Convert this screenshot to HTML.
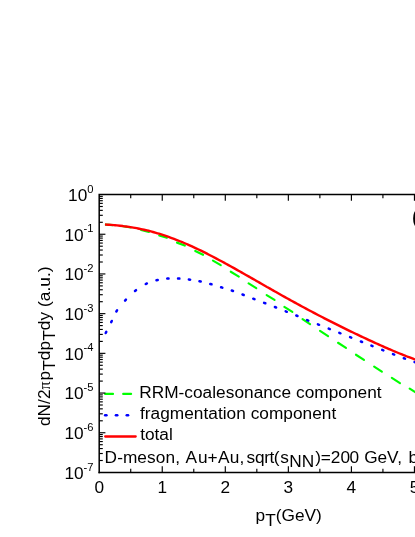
<!DOCTYPE html>
<html><head><meta charset="utf-8"><title>chart</title>
<style>
html,body{margin:0;padding:0;background:#fff;}
body{width:415px;height:537px;overflow:hidden;}
svg{display:block;will-change:transform;}
text{font-family:"Liberation Sans",sans-serif;fill:#000;}
</style></head><body>
<svg width="415" height="537" viewBox="0 0 415 537">
<rect width="415" height="537" fill="#fff"/>

<g stroke="#00ff00" stroke-width="2.15" stroke-linecap="round" fill="none">
<line x1="105.85" y1="224.65" x2="112.85" y2="225.15"/>
<line x1="122.94" y1="226.30" x2="130.66" y2="227.50"/>
<line x1="141.13" y1="230.05" x2="148.87" y2="231.95"/>
<line x1="159.22" y1="235.58" x2="166.88" y2="237.82"/>
<line x1="177.01" y1="242.63" x2="184.79" y2="245.57"/>
<line x1="195.28" y1="250.99" x2="203.02" y2="254.81"/>
<line x1="212.96" y1="260.63" x2="220.74" y2="265.17"/>
<line x1="230.76" y1="271.73" x2="238.84" y2="276.57"/>
<line x1="248.65" y1="283.44" x2="256.25" y2="288.16"/>
<line x1="266.65" y1="295.04" x2="274.55" y2="299.96"/>
<line x1="284.35" y1="306.94" x2="292.35" y2="311.86"/>
<line x1="302.54" y1="319.06" x2="310.06" y2="324.14"/>
<line x1="320.04" y1="330.86" x2="328.06" y2="336.14"/>
<line x1="338.04" y1="342.76" x2="345.96" y2="347.94"/>
<line x1="355.95" y1="354.75" x2="363.95" y2="359.95"/>
<line x1="374.15" y1="366.65" x2="381.85" y2="371.65"/>
<line x1="391.85" y1="377.95" x2="399.95" y2="383.15"/>
<line x1="409.75" y1="388.55" x2="417.45" y2="393.55"/>
</g>
<g stroke="#0000ff" stroke-width="2.5" stroke-linecap="round" fill="none">
<line x1="105.71" y1="333.03" x2="106.29" y2="331.87"/>
<line x1="111.21" y1="322.13" x2="111.79" y2="320.97"/>
<line x1="116.34" y1="311.49" x2="117.06" y2="310.41"/>
<line x1="125.06" y1="300.63" x2="125.94" y2="299.67"/>
<line x1="134.99" y1="290.95" x2="136.01" y2="290.15"/>
<line x1="145.71" y1="284.03" x2="146.89" y2="283.47"/>
<line x1="156.47" y1="280.30" x2="157.73" y2="280.00"/>
<line x1="167.25" y1="278.60" x2="168.55" y2="278.50"/>
<line x1="178.05" y1="278.52" x2="179.35" y2="278.58"/>
<line x1="188.86" y1="279.46" x2="190.14" y2="279.64"/>
<line x1="199.46" y1="281.31" x2="200.74" y2="281.59"/>
<line x1="210.27" y1="283.98" x2="211.53" y2="284.32"/>
<line x1="221.08" y1="287.26" x2="222.32" y2="287.64"/>
<line x1="231.78" y1="290.54" x2="233.02" y2="290.96"/>
<line x1="242.49" y1="294.52" x2="243.71" y2="294.98"/>
<line x1="253.29" y1="298.72" x2="254.51" y2="299.18"/>
<line x1="264.09" y1="302.82" x2="265.31" y2="303.28"/>
<line x1="274.90" y1="307.01" x2="276.10" y2="307.49"/>
<line x1="285.70" y1="311.31" x2="286.90" y2="311.79"/>
<line x1="296.30" y1="315.50" x2="297.50" y2="316.00"/>
<line x1="307.10" y1="320.10" x2="308.30" y2="320.60"/>
<line x1="317.90" y1="324.31" x2="319.10" y2="324.79"/>
<line x1="328.70" y1="328.61" x2="329.90" y2="329.09"/>
<line x1="339.30" y1="332.81" x2="340.50" y2="333.29"/>
<line x1="350.10" y1="337.11" x2="351.30" y2="337.59"/>
<line x1="360.90" y1="341.51" x2="362.10" y2="341.99"/>
<line x1="371.40" y1="345.61" x2="372.60" y2="346.09"/>
<line x1="382.20" y1="349.91" x2="383.40" y2="350.39"/>
<line x1="392.99" y1="354.12" x2="394.21" y2="354.58"/>
<line x1="403.79" y1="358.23" x2="405.01" y2="358.67"/>
<line x1="414.59" y1="362.03" x2="415.81" y2="362.47"/>
</g>
<path d="M105.0,224.5 C105.50,224.53 107.00,224.62 108.0,224.69 C109.00,224.76 110.00,224.82 111.0,224.9 C112.00,224.98 113.00,225.06 114.0,225.15 C115.00,225.24 116.00,225.32 117.0,225.42 C118.00,225.52 119.00,225.62 120.0,225.73 C121.00,225.84 122.00,225.96 123.0,226.08 C124.00,226.20 125.00,226.33 126.0,226.47 C127.00,226.61 128.00,226.75 129.0,226.9 C130.00,227.05 131.00,227.21 132.0,227.37 C133.00,227.53 134.00,227.71 135.0,227.89 C136.00,228.07 137.00,228.25 138.0,228.45 C139.00,228.64 140.00,228.85 141.0,229.06 C142.00,229.27 143.00,229.49 144.0,229.72 C145.00,229.95 146.00,230.18 147.0,230.42 C148.00,230.66 149.00,230.91 150.0,231.17 C151.00,231.43 152.00,231.69 153.0,231.97 C154.00,232.25 155.00,232.53 156.0,232.82 C157.00,233.11 158.00,233.41 159.0,233.72 C160.00,234.03 161.00,234.34 162.0,234.66 C163.00,234.98 164.00,235.31 165.0,235.65 C166.00,235.99 167.00,236.33 168.0,236.68 C169.00,237.03 170.00,237.39 171.0,237.76 C172.00,238.13 173.00,238.50 174.0,238.88 C175.00,239.26 176.00,239.65 177.0,240.04 C178.00,240.43 179.00,240.83 180.0,241.24 C181.00,241.65 182.00,242.07 183.0,242.49 C184.00,242.91 185.00,243.34 186.0,243.77 C187.00,244.20 188.00,244.65 189.0,245.09 C190.00,245.53 191.00,245.98 192.0,246.44 C193.00,246.90 194.00,247.36 195.0,247.83 C196.00,248.30 197.00,248.77 198.0,249.25 C199.00,249.73 200.00,250.21 201.0,250.7 C202.00,251.19 203.00,251.67 204.0,252.17 C205.00,252.67 206.00,253.17 207.0,253.68 C208.00,254.19 209.00,254.70 210.0,255.21 C211.00,255.72 212.00,256.25 213.0,256.77 C214.00,257.29 215.00,257.81 216.0,258.34 C217.00,258.87 218.00,259.40 219.0,259.94 C220.00,260.48 221.00,261.01 222.0,261.55 C223.00,262.09 224.00,262.64 225.0,263.19 C226.00,263.74 227.00,264.28 228.0,264.83 C229.00,265.38 230.00,265.93 231.0,266.49 C232.00,267.05 233.00,267.61 234.0,268.17 C235.00,268.73 236.00,269.29 237.0,269.85 C238.00,270.41 239.00,270.98 240.0,271.54 C241.00,272.11 242.00,272.67 243.0,273.24 C244.00,273.81 245.00,274.38 246.0,274.95 C247.00,275.52 248.00,276.09 249.0,276.66 C250.00,277.23 251.00,277.80 252.0,278.37 C253.00,278.94 254.00,279.51 255.0,280.08 C256.00,280.65 257.00,281.23 258.0,281.8 C259.00,282.37 260.00,282.95 261.0,283.52 C262.00,284.09 263.00,284.66 264.0,285.23 C265.00,285.80 266.00,286.37 267.0,286.94 C268.00,287.51 269.00,288.08 270.0,288.65 C271.00,289.22 272.00,289.78 273.0,290.35 C274.00,290.92 275.00,291.48 276.0,292.05 C277.00,292.62 278.00,293.19 279.0,293.75 C280.00,294.31 281.00,294.87 282.0,295.43 C283.00,295.99 284.00,296.55 285.0,297.11 C286.00,297.67 287.00,298.22 288.0,298.78 C289.00,299.33 290.00,299.89 291.0,300.44 C292.00,300.99 293.00,301.55 294.0,302.1 C295.00,302.65 296.00,303.19 297.0,303.74 C298.00,304.29 299.00,304.83 300.0,305.37 C301.00,305.91 302.00,306.46 303.0,307.0 C304.00,307.54 305.00,308.07 306.0,308.61 C307.00,309.15 308.00,309.69 309.0,310.22 C310.00,310.75 311.00,311.28 312.0,311.81 C313.00,312.34 314.00,312.86 315.0,313.39 C316.00,313.92 317.00,314.45 318.0,314.97 C319.00,315.49 320.00,316.01 321.0,316.53 C322.00,317.05 323.00,317.56 324.0,318.08 C325.00,318.59 326.00,319.11 327.0,319.62 C328.00,320.13 329.00,320.64 330.0,321.15 C331.00,321.66 332.00,322.16 333.0,322.66 C334.00,323.16 335.00,323.67 336.0,324.17 C337.00,324.67 338.00,325.17 339.0,325.67 C340.00,326.17 341.00,326.67 342.0,327.16 C343.00,327.65 344.00,328.14 345.0,328.63 C346.00,329.12 347.00,329.61 348.0,330.1 C349.00,330.59 350.00,331.08 351.0,331.56 C352.00,332.04 353.00,332.52 354.0,333.0 C355.00,333.48 356.00,333.96 357.0,334.44 C358.00,334.92 359.00,335.39 360.0,335.86 C361.00,336.33 362.00,336.81 363.0,337.28 C364.00,337.75 365.00,338.22 366.0,338.68 C367.00,339.14 368.00,339.61 369.0,340.07 C370.00,340.53 371.00,340.99 372.0,341.45 C373.00,341.91 374.00,342.37 375.0,342.82 C376.00,343.27 377.00,343.73 378.0,344.18 C379.00,344.63 380.00,345.07 381.0,345.52 C382.00,345.96 383.00,346.41 384.0,346.85 C385.00,347.29 386.00,347.74 387.0,348.17 C388.00,348.61 389.00,349.03 390.0,349.46 C391.00,349.89 392.00,350.32 393.0,350.75 C394.00,351.18 395.00,351.59 396.0,352.01 C397.00,352.43 398.00,352.84 399.0,353.25 C400.00,353.66 401.00,354.07 402.0,354.47 C403.00,354.87 404.00,355.28 405.0,355.67 C406.00,356.06 407.00,356.45 408.0,356.84 C409.00,357.22 410.00,357.61 411.0,357.98 C412.00,358.36 413.00,358.72 414.0,359.09 C415.00,359.45 416.50,359.99 417.0,360.17" stroke="#ff0000" stroke-width="2.4" fill="none"/>
<g stroke="#00ff00" stroke-width="2.15" stroke-linecap="round"><line x1="105.1" y1="393.9" x2="113.0" y2="393.9"/><line x1="123.2" y1="393.9" x2="131.1" y2="393.9"/></g>
<g stroke="#0000ff" stroke-width="2.5" stroke-linecap="round">
<line x1="105.14999999999999" y1="415.2" x2="106.45" y2="415.2"/>
<line x1="115.94999999999999" y1="415.2" x2="117.25" y2="415.2"/>
<line x1="126.75" y1="415.2" x2="128.05" y2="415.2"/>
</g>
<line x1="105.2" y1="436.5" x2="135.7" y2="436.5" stroke="#ff0000" stroke-width="2.3" stroke-linecap="round"/>
<g stroke="#000" stroke-width="1.5" fill="none">
<path d="M99.2,473.20000000000005 V194.55 H417"/>
<path d="M98.45,472.45000000000005 H417"/>
</g><g stroke="#000" stroke-width="1.15" fill="none">
<line x1="130.72" y1="194.55" x2="130.72" y2="198.15"/>
<line x1="130.72" y1="472.45000000000005" x2="130.72" y2="468.85"/>
<line x1="162.25" y1="194.55" x2="162.25" y2="200.75"/>
<line x1="162.25" y1="472.45000000000005" x2="162.25" y2="466.25000000000006"/>
<line x1="193.77" y1="194.55" x2="193.77" y2="198.15"/>
<line x1="193.77" y1="472.45000000000005" x2="193.77" y2="468.85"/>
<line x1="225.30" y1="194.55" x2="225.30" y2="200.75"/>
<line x1="225.30" y1="472.45000000000005" x2="225.30" y2="466.25000000000006"/>
<line x1="256.82" y1="194.55" x2="256.82" y2="198.15"/>
<line x1="256.82" y1="472.45000000000005" x2="256.82" y2="468.85"/>
<line x1="288.35" y1="194.55" x2="288.35" y2="200.75"/>
<line x1="288.35" y1="472.45000000000005" x2="288.35" y2="466.25000000000006"/>
<line x1="319.88" y1="194.55" x2="319.88" y2="198.15"/>
<line x1="319.88" y1="472.45000000000005" x2="319.88" y2="468.85"/>
<line x1="351.40" y1="194.55" x2="351.40" y2="200.75"/>
<line x1="351.40" y1="472.45000000000005" x2="351.40" y2="466.25000000000006"/>
<line x1="382.92" y1="194.55" x2="382.92" y2="198.15"/>
<line x1="382.92" y1="472.45000000000005" x2="382.92" y2="468.85"/>
<line x1="414.45" y1="194.55" x2="414.45" y2="200.75"/>
<line x1="414.45" y1="472.45000000000005" x2="414.45" y2="466.25000000000006"/>
<line x1="99.2" y1="222.30" x2="102.8" y2="222.30"/>
<line x1="99.2" y1="215.31" x2="102.8" y2="215.31"/>
<line x1="99.2" y1="210.35" x2="102.8" y2="210.35"/>
<line x1="99.2" y1="206.50" x2="102.8" y2="206.50"/>
<line x1="99.2" y1="203.36" x2="102.8" y2="203.36"/>
<line x1="99.2" y1="200.70" x2="102.8" y2="200.70"/>
<line x1="99.2" y1="198.40" x2="102.8" y2="198.40"/>
<line x1="99.2" y1="196.37" x2="102.8" y2="196.37"/>
<line x1="99.2" y1="234.25" x2="105.4" y2="234.25"/>
<line x1="99.2" y1="262.00" x2="102.8" y2="262.00"/>
<line x1="99.2" y1="255.01" x2="102.8" y2="255.01"/>
<line x1="99.2" y1="250.05" x2="102.8" y2="250.05"/>
<line x1="99.2" y1="246.20" x2="102.8" y2="246.20"/>
<line x1="99.2" y1="243.06" x2="102.8" y2="243.06"/>
<line x1="99.2" y1="240.40" x2="102.8" y2="240.40"/>
<line x1="99.2" y1="238.10" x2="102.8" y2="238.10"/>
<line x1="99.2" y1="236.07" x2="102.8" y2="236.07"/>
<line x1="99.2" y1="273.95" x2="105.4" y2="273.95"/>
<line x1="99.2" y1="301.70" x2="102.8" y2="301.70"/>
<line x1="99.2" y1="294.71" x2="102.8" y2="294.71"/>
<line x1="99.2" y1="289.75" x2="102.8" y2="289.75"/>
<line x1="99.2" y1="285.90" x2="102.8" y2="285.90"/>
<line x1="99.2" y1="282.76" x2="102.8" y2="282.76"/>
<line x1="99.2" y1="280.10" x2="102.8" y2="280.10"/>
<line x1="99.2" y1="277.80" x2="102.8" y2="277.80"/>
<line x1="99.2" y1="275.77" x2="102.8" y2="275.77"/>
<line x1="99.2" y1="313.65" x2="105.4" y2="313.65"/>
<line x1="99.2" y1="341.40" x2="102.8" y2="341.40"/>
<line x1="99.2" y1="334.41" x2="102.8" y2="334.41"/>
<line x1="99.2" y1="329.45" x2="102.8" y2="329.45"/>
<line x1="99.2" y1="325.60" x2="102.8" y2="325.60"/>
<line x1="99.2" y1="322.46" x2="102.8" y2="322.46"/>
<line x1="99.2" y1="319.80" x2="102.8" y2="319.80"/>
<line x1="99.2" y1="317.50" x2="102.8" y2="317.50"/>
<line x1="99.2" y1="315.47" x2="102.8" y2="315.47"/>
<line x1="99.2" y1="353.35" x2="105.4" y2="353.35"/>
<line x1="99.2" y1="381.10" x2="102.8" y2="381.10"/>
<line x1="99.2" y1="374.11" x2="102.8" y2="374.11"/>
<line x1="99.2" y1="369.15" x2="102.8" y2="369.15"/>
<line x1="99.2" y1="365.30" x2="102.8" y2="365.30"/>
<line x1="99.2" y1="362.16" x2="102.8" y2="362.16"/>
<line x1="99.2" y1="359.50" x2="102.8" y2="359.50"/>
<line x1="99.2" y1="357.20" x2="102.8" y2="357.20"/>
<line x1="99.2" y1="355.17" x2="102.8" y2="355.17"/>
<line x1="99.2" y1="393.05" x2="105.4" y2="393.05"/>
<line x1="99.2" y1="420.80" x2="102.8" y2="420.80"/>
<line x1="99.2" y1="413.81" x2="102.8" y2="413.81"/>
<line x1="99.2" y1="408.85" x2="102.8" y2="408.85"/>
<line x1="99.2" y1="405.00" x2="102.8" y2="405.00"/>
<line x1="99.2" y1="401.86" x2="102.8" y2="401.86"/>
<line x1="99.2" y1="399.20" x2="102.8" y2="399.20"/>
<line x1="99.2" y1="396.90" x2="102.8" y2="396.90"/>
<line x1="99.2" y1="394.87" x2="102.8" y2="394.87"/>
<line x1="99.2" y1="432.75" x2="105.4" y2="432.75"/>
<line x1="99.2" y1="460.50" x2="102.8" y2="460.50"/>
<line x1="99.2" y1="453.51" x2="102.8" y2="453.51"/>
<line x1="99.2" y1="448.55" x2="102.8" y2="448.55"/>
<line x1="99.2" y1="444.70" x2="102.8" y2="444.70"/>
<line x1="99.2" y1="441.56" x2="102.8" y2="441.56"/>
<line x1="99.2" y1="438.90" x2="102.8" y2="438.90"/>
<line x1="99.2" y1="436.60" x2="102.8" y2="436.60"/>
<line x1="99.2" y1="434.57" x2="102.8" y2="434.57"/>
</g>
<text x="93.5" y="200.85" text-anchor="end" font-size="17.25"><tspan>10</tspan><tspan font-size="11.2" dy="-8.2">0</tspan></text>
<text x="83.7" y="240.55" text-anchor="end" font-size="17.25">10</text>
<text x="93.5" y="232.35" text-anchor="end" font-size="11.2">-1</text>
<text x="83.7" y="280.25" text-anchor="end" font-size="17.25">10</text>
<text x="93.5" y="272.05" text-anchor="end" font-size="11.2">-2</text>
<text x="83.7" y="319.95" text-anchor="end" font-size="17.25">10</text>
<text x="93.5" y="311.75" text-anchor="end" font-size="11.2">-3</text>
<text x="83.7" y="359.65" text-anchor="end" font-size="17.25">10</text>
<text x="93.5" y="351.45" text-anchor="end" font-size="11.2">-4</text>
<text x="83.7" y="399.35" text-anchor="end" font-size="17.25">10</text>
<text x="93.5" y="391.15" text-anchor="end" font-size="11.2">-5</text>
<text x="83.7" y="439.05" text-anchor="end" font-size="17.25">10</text>
<text x="93.5" y="430.85" text-anchor="end" font-size="11.2">-6</text>
<text x="83.7" y="478.75" text-anchor="end" font-size="17.25">10</text>
<text x="93.5" y="470.55" text-anchor="end" font-size="11.2">-7</text>
<text x="99.20" y="492.75" text-anchor="middle" font-size="17.25">0</text>
<text x="162.25" y="492.75" text-anchor="middle" font-size="17.25">1</text>
<text x="225.30" y="492.75" text-anchor="middle" font-size="17.25">2</text>
<text x="288.35" y="492.75" text-anchor="middle" font-size="17.25">3</text>
<text x="351.40" y="492.75" text-anchor="middle" font-size="17.25">4</text>
<text x="414.45" y="492.75" text-anchor="middle" font-size="17.25">5</text>
<text x="255.6" y="520.7" font-size="17.25">p<tspan dy="5.2">T</tspan><tspan dy="-5.2">(GeV)</tspan></text>
<text transform="translate(49.6,426.1) rotate(-90)" font-size="17.25" letter-spacing="0.06">dN/2<tspan font-size="16" font-family="Liberation Serif" letter-spacing="0.9">π</tspan>p<tspan dy="5.6">T</tspan><tspan dy="-5.6">dp</tspan><tspan dy="5.6">T</tspan><tspan dy="-5.6">dy (a.u.)</tspan></text>
<text x="139.2" y="398.4" font-size="17.25" letter-spacing="0.03">RRM-coalesonance component</text>
<text x="140.0" y="419.3" font-size="17.25" letter-spacing="0.03">fragmentation component</text>
<text x="140.2" y="440.0" font-size="17.25">total</text>
<text x="104.60 117.15 122.89 137.36 147.06 155.68 165.38 175.37 180.17 185.51 197.91 207.60 217.88 229.78 239.38 242.27 246.50 255.03 264.27 269.62 273.82 280.15 289.19 301.65 315.32 320.65 330.73 340.52 349.62 359.21 364.31 377.41 387.01 397.23 402.23 408.52 418.12 428.18 437.77 442.57" y="462.5 462.5 462.5 462.5 462.5 462.5 462.5 462.5 462.5 462.5 462.5 462.5 462.5 462.5 462.5 462.5 462.5 462.5 462.5 462.5 462.5 462.5 467.0 467.0 462.5 462.5 462.5 462.5 462.5 462.5 462.5 462.5 462.5 462.5 462.5 462.5 462.5 462.5 462.5 462.5" font-size="17.25">D-meson, Au+Au, sqrt(sNN)=200 GeV, b=7fm</text>
<text x="411.7" y="224.3" font-size="22">(a)</text>
</svg></body></html>
